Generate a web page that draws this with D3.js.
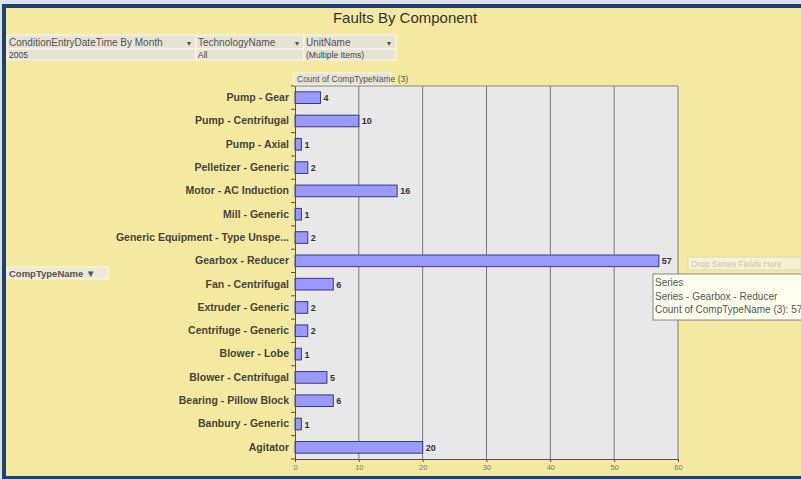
<!DOCTYPE html>
<html><head><meta charset="utf-8">
<script src="https://cdn.jsdelivr.net/npm/d3@7"></script>
<style>
body{margin:0;padding:0;background:#dde1ea;}
svg{display:block;font-family:"Liberation Sans",Arial,sans-serif;}
</style></head><body>
<svg id="c" width="801" height="479"></svg>
<script>
const categories = ["Pump - Gear","Pump - Centrifugal","Pump - Axial","Pelletizer - Generic","Motor - AC Induction","Mill - Generic","Generic Equipment - Type Unspe...","Gearbox - Reducer","Fan - Centrifugal","Extruder - Generic","Centrifuge - Generic","Blower - Lobe","Blower - Centrifugal","Bearing - Pillow Block","Banbury - Generic","Agitator"];
const values = [4,10,1,2,16,1,2,57,6,2,2,1,5,6,1,20];
const xTicks = [0,10,20,30,40,50,60];
const title = "Faults By Component";
const filterHeaders = ["ConditionEntryDateTime By Month","TechnologyName","UnitName"];
const filterValues = ["2005","All","(Multiple Items)"];
const measureLabel = "Count of CompTypeName (3)";
const rowFieldLabel = "CompTypeName";
const tooltipLines = ["Series","Series - Gearbox - Reducer","Count of CompTypeName (3): 57"];

const svg = d3.select("#c");
// frame
svg.append("rect").attr("x",0).attr("y",0).attr("width",801).attr("height",479).attr("fill","#dde1ea");
svg.append("rect").attr("x",2).attr("y",4).attr("width",799).attr("height",475).attr("fill","#243f6e");
svg.append("rect").attr("x",6).attr("y",8).attr("width",795).attr("height",468).attr("fill","#f3e9a0");

// title
svg.append("text").attr("x",405).attr("y",23).attr("text-anchor","middle")
  .attr("font-size",15).attr("fill","#333").text(title);

// filter table
const colX = [7,196,304], colW = [189,108,92];
filterHeaders.forEach((h,i)=>{
  svg.append("rect").attr("x",colX[i]).attr("y",35).attr("width",colW[i]).attr("height",14)
    .attr("fill","#e6e3d6").attr("stroke","#fbf8ea").attr("stroke-width",1);
  svg.append("rect").attr("x",colX[i]).attr("y",49).attr("width",colW[i]).attr("height",11)
    .attr("fill","#e6e3d6").attr("stroke","#fbf8ea").attr("stroke-width",1);
  svg.append("text").attr("x",colX[i]+2).attr("y",46).attr("font-size",10).attr("fill","#555").text(h);
  svg.append("text").attr("x",colX[i]+colW[i]-7).attr("y",45.5).attr("font-size",7).attr("fill","#555").attr("text-anchor","middle").text("▼");
  svg.append("text").attr("x",colX[i]+2).attr("y",57.5).attr("font-size",8.5).attr("fill","#444").text(filterValues[i]);
});

// plot geometry
const pL = 295, pR = 678, pT = 86, pB = 459;
const x = d3.scaleLinear().domain([0,60]).range([pL,pR]);
const y = d3.scaleBand().domain(categories).range([pT,pB]).paddingInner(0.5).paddingOuter(0.25);

// measure label
svg.append("rect").attr("x",294).attr("y",73).attr("width",97).attr("height",12)
  .attr("fill","#e6e3d6").attr("stroke","#fbf8ea");
svg.append("text").attr("x",297).attr("y",82).attr("font-size",8.5).attr("fill","#555").text(measureLabel);

// plot bg
svg.append("rect").attr("x",pL).attr("y",pT).attr("width",pR-pL).attr("height",pB-pT)
  .attr("fill","#e8e8e8");
// grid
svg.append("g").selectAll("line").data(xTicks.slice(1)).join("line")
  .attr("x1",d=>x(d)).attr("x2",d=>x(d)).attr("y1",pT).attr("y2",pB)
  .attr("stroke","#7a7a7a").attr("stroke-width",1);
svg.append("line").attr("x1",pL).attr("x2",pR).attr("y1",pT).attr("y2",pT).attr("stroke","#888");

// bars
svg.append("g").selectAll("rect").data(categories).join("rect")
  .attr("x",x(0)).attr("y",d=>y(d)).attr("width",(d,i)=>x(values[i])-x(0)).attr("height",y.bandwidth())
  .attr("fill","#9999ff").attr("stroke","#3a3a7a").attr("stroke-width",1);
// value labels
svg.append("g").selectAll("text").data(categories).join("text")
  .attr("x",(d,i)=>x(values[i])+3).attr("y",d=>y(d)+y.bandwidth()/2+3.5)
  .attr("font-size",9).attr("font-weight","bold").attr("fill","#333").text((d,i)=>values[i]);

// y axis
const yAxis = d3.axisLeft(y).tickSize(0).tickPadding(6);
const gy = svg.append("g").attr("transform",`translate(${pL},0)`).call(yAxis);
gy.select(".domain").attr("stroke","#555");
gy.selectAll("text").attr("font-size",10.5).attr("font-weight","bold").attr("fill","#45453a")
  .attr("font-family","Liberation Sans,Arial,sans-serif");
// small ticks between categories
const step = y.step();
const bounds = d3.range(categories.length+1).map(i=>i===0?pT:y(categories[i-1])+y.bandwidth()+step*y.paddingInner()/2);
svg.append("g").selectAll("line").data(bounds).join("line")
  .attr("x1",pL-4).attr("x2",pL).attr("y1",d=>d).attr("y2",d=>d).attr("stroke","#555");

// x axis
const xAxis = d3.axisBottom(x).tickValues(xTicks).tickSize(3).tickPadding(3);
const gx = svg.append("g").attr("transform",`translate(0,${pB})`).call(xAxis);
gx.select(".domain").attr("stroke","#555");
gx.selectAll("line").attr("stroke","#555");
gx.selectAll("text").attr("font-size",7.5).attr("fill","#777");

// row field label
svg.append("rect").attr("x",7).attr("y",267).attr("width",101).attr("height",12)
  .attr("fill","#ece8d6").attr("stroke","#fbf8ea");
svg.append("text").attr("x",9).attr("y",276.5).attr("font-size",9.5).attr("font-weight","bold").attr("fill","#555").text(rowFieldLabel+" ▼");

// drop series hint
svg.append("rect").attr("x",688).attr("y",257).attr("width",113).attr("height",13)
  .attr("fill","#f6f1d2").attr("stroke","#dcd7bf");
svg.append("text").attr("x",691).attr("y",266.5).attr("font-size",8.5).attr("fill","#c8c4b4").text("Drop Series Fields Here");

// tooltip
svg.append("rect").attr("x",653).attr("y",274).attr("width",150).attr("height",46)
  .attr("fill","#fffff0").attr("stroke","#888");
tooltipLines.forEach((t,i)=>{
  svg.append("text").attr("x",655).attr("y",286+i*13.5).attr("font-size",10).attr("fill","#555").text(t);
});
</script></body></html>
